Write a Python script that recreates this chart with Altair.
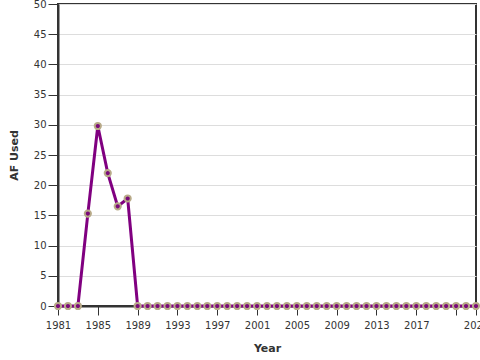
import altair as alt
import pandas as pd

years = list(range(1981, 2024))
af_used = [0, 0, 0, 15.3, 29.8, 22.0, 16.5, 17.8] + [0] * (2023 - 1988)

tick_years = [1981, 1985, 1989, 1993, 1997, 2001, 2005, 2009, 2013, 2017, 2021, 2023]
y_ticks = [0, 5, 10, 15, 20, 25, 30, 35, 40, 45, 50]

df = pd.DataFrame({"Year": years, "AF Used": af_used})

x = alt.X("Year:Q", title="Year",
          scale=alt.Scale(domain=[1981, 2023], nice=False, zero=False),
          axis=alt.Axis(values=tick_years, format="d", grid=False,
                        labelExpr="datum.value == 2021 ? '' : datum.label",
                        labelOverlap=False, labelFlush=False,
                        tickSize=9, labelPadding=5, titlePadding=12))
y = alt.Y("AF Used:Q", title="AF Used",
          scale=alt.Scale(domain=[0, 50], nice=False),
          axis=alt.Axis(values=y_ticks, grid=True, labelFlush=False,
                        tickSize=10, labelPadding=2, titlePadding=14))

line = alt.Chart(df).mark_line(color="#800080", strokeWidth=3).encode(x=x, y=y)
pts = alt.Chart(df).mark_point(filled=True, fill="#7a0a7a", stroke="#b8aa88",
                                strokeWidth=2, size=38, opacity=1).encode(x=x, y=y)

chart = (line + pts).properties(
    width=418, height=302,
    autosize=alt.AutoSizeParams(type="none"),
    padding={"left": 58, "top": 4, "right": 4, "bottom": 54},
).configure_view(
    stroke="#333333", strokeWidth=2
).configure_axis(
    domainColor="#333333", domainWidth=2, tickColor="#333333",
    labelFont="DejaVu Sans", titleFont="DejaVu Sans",
    labelFontSize=10, titleFontSize=11, labelColor="#333333", titleColor="#333333",
    gridColor="#dddddd"
)

chart.save("out.html", embed_options={"renderer": "svg", "actions": False})
